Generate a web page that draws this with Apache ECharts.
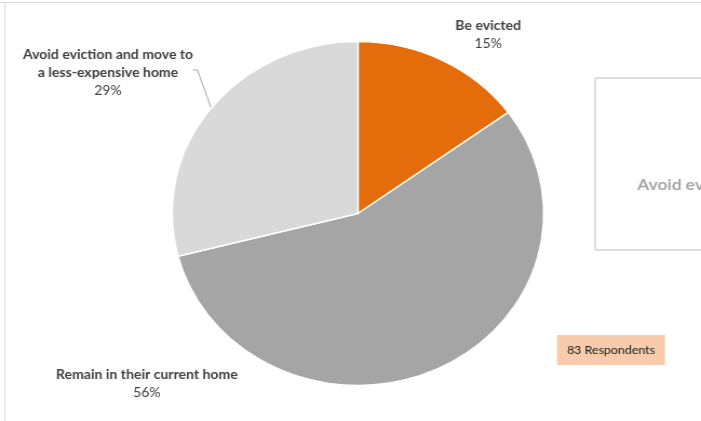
<!DOCTYPE html>
<html>
<head>
<meta charset="utf-8">
<script src="https://cdn.jsdelivr.net/npm/echarts@6/dist/echarts.min.js"></script>
<style>
  html, body { margin: 0; padding: 0; background: #ffffff; overflow: hidden; }
  #frame { position: absolute; left: 0; top: 0; width: 701px; height: 421px; overflow: hidden; }
  /* the chart is drawn on a narrower canvas and widened to the page */
  #chart { position: absolute; left: 0; top: 0; width: 649px; height: 421px; transform-origin: 0 0; transform: scaleX(1.0801); }
</style>
</head>
<body>
<div id="frame"><div id="chart"></div></div>
<script>
// Survey outcome shares (percent of 83 respondents)
const categories = [
  'Be evicted',
  'Remain in their current home',
  'Avoid eviction and move to\na less-expensive home'
];
const shares = [15, 56, 29];
const sliceColors = ['#e46c0a', '#a5a5a5', '#d9d9d9'];
const respondentsNote = '83 Respondents';
const sideBoxText = 'Avoid eviction and move to a less-expensive home';

// label anchor spots (top-centre of each label block), in canvas px
const labelSpots = [
  { x: 452, y: 17 },
  { x: 136, y: 366 },
  { x: 100, y: 46 }
];

const pieCenter = [331.4, 213.5];
const pieRadius = 172;

const chart = echarts.init(document.getElementById('chart'), null, { renderer: 'canvas' });

const font = 'Lato, "Open Sans", sans-serif';

// point on the rim at the middle of slice i
function rimPoint(i) {
  const total = shares.reduce((a, b) => a + b, 0);
  let before = 0;
  for (let k = 0; k < i; k++) before += shares[k];
  const a = 2 * Math.PI * (before + shares[i] / 2) / total;
  return [pieCenter[0] + pieRadius * Math.sin(a), pieCenter[1] - pieRadius * Math.cos(a)];
}

chart.setOption({
  animation: false,
  backgroundColor: '#ffffff',
  graphic: [
    // outer frame edges
    { type: 'line', shape: { x1: 0, y1: 2.5, x2: 649, y2: 2.5 }, style: { stroke: '#d9d9d9', lineWidth: 1 } },
    { type: 'line', shape: { x1: 4.5, y1: 2.5, x2: 4.5, y2: 421 }, style: { stroke: '#d9d9d9', lineWidth: 1 } },
    // side box
    { type: 'rect', shape: { x: 551, y: 78, width: 120, height: 172 }, style: { fill: '#ffffff', stroke: '#bfbfbf', lineWidth: 1 } },
    { type: 'text', x: 590, y: 185, style: { text: sideBoxText, fill: '#a6a6a6', font: 'bold 16px ' + font, verticalAlign: 'middle', align: 'left' } },
    // respondents note
    { type: 'rect', shape: { x: 515.7, y: 335, width: 100, height: 30 }, style: { fill: '#f8cbad' } },
    { type: 'text', x: 565.7, y: 350, style: { text: respondentsNote, fill: '#1a1a1a', font: '11.5px ' + font, align: 'center', verticalAlign: 'middle' } }
  ],
  series: [{
    type: 'pie',
    center: pieCenter,
    radius: [0, pieRadius],
    startAngle: 90,
    clockwise: true,
    avoidLabelOverlap: false,
    itemStyle: { borderColor: '#ffffff', borderWidth: 1.5 },
    label: {
      show: true,
      position: 'outside',
      formatter: p => '{n|' + p.name.split('\n').join('}\n{n|') + '}\n{v|' + p.value + '%}',
      rich: {
        n: { fontFamily: font, fontWeight: 'bold', fontSize: 13, color: '#404040', lineHeight: 18, align: 'center' },
        v: { fontFamily: font, fontSize: 13, color: '#404040', lineHeight: 18, align: 'center' }
      }
    },
    labelLine: { show: false },
    labelLayout: p => {
      const s = labelSpots[p.dataIndex];
      const out = { x: s.x, y: s.y, align: 'center', verticalAlign: 'top' };
      if (p.dataIndex === 2) {
        // leader: rim -> short elbow -> right end of the second text line
        const right = s.x + p.labelRect.width / 2;
        const lineY = s.y + 24;
        out.labelLinePoints = [rimPoint(2), [right + 4, lineY], [right, lineY]];
      }
      return out;
    },
    data: categories.map((name, i) => ({
      name,
      value: shares[i],
      itemStyle: { color: sliceColors[i] },
      labelLine: i === 2 ? { show: true, lineStyle: { color: '#a6a6a6', width: 1 } } : { show: false }
    }))
  }]
});
</script>
</body>
</html>
